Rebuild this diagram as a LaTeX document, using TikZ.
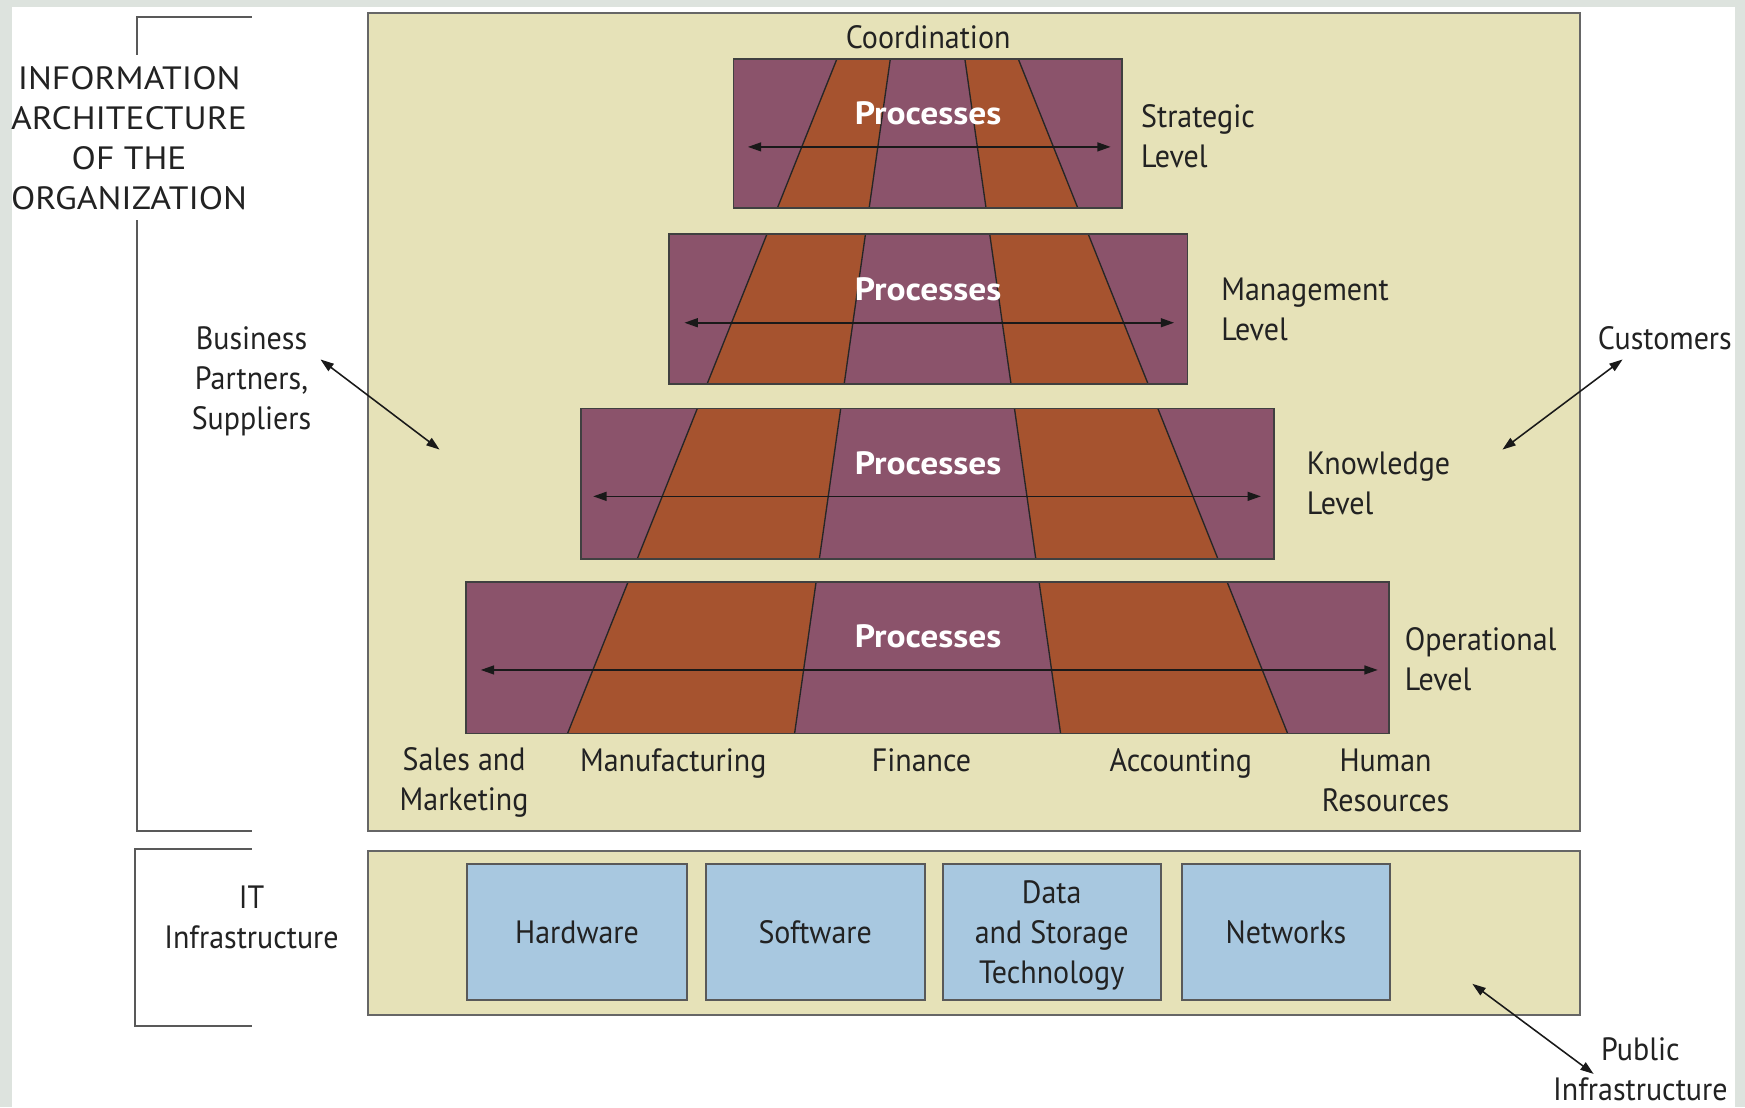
\documentclass[tikz,border=0pt]{standalone}
\usepackage{fontspec}
\setmainfont{PT Sans}[FakeStretch=0.93]
\newfontfamily\procfont{PT Sans}[FakeStretch=1.1]
\usetikzlibrary{arrows.meta,fit}
\definecolor{bgout}{HTML}{DDE3DE}
\definecolor{khaki}{HTML}{E6E2B8}
\definecolor{purp}{HTML}{8B536B}
\definecolor{orng}{HTML}{A6532F}
\definecolor{lblue}{HTML}{A8C8E0}
\definecolor{ink}{HTML}{222222}
\begin{document}
\begin{tikzpicture}[x=0.5pt,y=-0.5pt,
  lbl/.style={font=\fontsize{14.5}{18}\selectfont, align=center, inner sep=0pt, text=ink},
  lvltxt/.style={lbl, align=left, anchor=west},
  proc/.style={font=\procfont\fontsize{14.5}{18}\selectfont\bfseries, text=white, inner sep=0pt},
  container/.style={draw=black!60, line width=1pt, fill=khaki, inner sep=0pt},
  techbox/.style={draw=black!65, line width=0.9pt, fill=lblue, inner sep=0pt, lbl},
  lvlbox/.style={draw=black!75, line width=0.8pt},
  stripe/.style={draw=black!85, line width=0.6pt},
  hflow/.style={draw=black!90, line width=0.75pt, {Triangle[length=6pt,width=4pt]}-{Triangle[length=6pt,width=4pt]}},
  ext/.style={draw=black!90, line width=0.7pt, {Triangle[length=6pt,width=4pt]}-{Triangle[length=6pt,width=4pt]}},
  bracket/.style={draw=black!65, line width=0.9pt}
]
\useasboundingbox (0,0) rectangle (1568,995);
\fill[bgout] (0,0) rectangle (1568,995);
\fill[white] (11,6) rectangle (1559,995);

% containers
\node[container, fit={(331,12) (1420,747)}] (org) {};
\node[container, fit={(331,765) (1420,912)}] (itbox) {};

% brackets
\draw[bracket] (226,15) -- (123,15) -- (123,49);
\draw[bracket] (123,198) -- (123,747) -- (226,747);
\draw[bracket] (226,763) -- (121,763) -- (121,922) -- (226,922);

% stripe guide coordinates
\coordinate (a1) at (752,53);  \coordinate (a2) at (510,659);
\coordinate (b1) at (800,53);  \coordinate (b2) at (714,659);
\coordinate (c1) at (867,53);  \coordinate (c2) at (953,659);
\coordinate (d1) at (915,53);  \coordinate (d2) at (1157,659);

% levels
\foreach \nm/\xl/\xr/\yt/\yb in {strat/659/1008/53/187, mgmt/601/1067/210/345, know/522/1145/367/502, oper/419/1248/523/659}{
  \begin{scope}
    \clip (\xl,\yt) rectangle (\xr,\yb);
    \fill[purp] (\xl,\yt) rectangle (\xr,\yb);
    \fill[orng] (a1) -- (b1) -- (b2) -- (a2) -- cycle;
    \fill[orng] (d1) -- (c1) -- (c2) -- (d2) -- cycle;
    \draw[stripe] (a1) -- (a2);
    \draw[stripe] (b1) -- (b2);
    \draw[stripe] (c1) -- (c2);
    \draw[stripe] (d1) -- (d2);
  \end{scope}
  \node[lvlbox, fit={(\xl,\yt) (\xr,\yb)}, inner sep=0pt] (\nm) {};
}

% process flows
\coordinate (s1) at (672,132); \coordinate (s2) at (998,132);
\coordinate (m1) at (615,290); \coordinate (m2) at (1055,290);
\coordinate (k1) at (533,446); \coordinate (k2) at (1133,446);
\coordinate (o1) at (432,602); \coordinate (o2) at (1238,602);
\draw[hflow] (s1) -- (s2);
\draw[hflow] (m1) -- (m2);
\draw[hflow] (k1) -- (k2);
\draw[hflow] (o1) -- (o2);

\node[proc] (p1) at (834,102) {Processes};
\node[proc] (p2) at (834,260) {Processes};
\node[proc] (p3) at (834,416) {Processes};
\node[proc] (p4) at (834,572) {Processes};

% labels
\node[lbl] (coord) at (834,33) {Coordination};
\node[lvltxt] (lstrat) at (1025,122) {Strategic\\Level};
\node[lvltxt] (lmgmt) at (1097,278) {Management\\Level};
\node[lvltxt] (lknow) at (1174,434) {Knowledge\\Level};
\node[lvltxt] (loper) at (1262,592) {Operational\\Level};

\node[lbl] (sales) at (417,703) {Sales and\\Marketing};
\node[lbl] (manu) at (605,686) {Manufacturing};
\node[lbl] (fin) at (828,683) {Finance};
\node[lbl] (acc) at (1061,686) {Accounting};
\node[lbl] (hr) at (1245,701) {Human\\Resources};

\node[lbl, font=\procfont\fontsize{14.5}{18}\selectfont] (info) at (116,124) {INFORMATION\\ARCHITECTURE\\OF THE\\ORGANIZATION};
\node[lbl] (itinf) at (226,824) {IT\\Infrastructure};

% technology boxes
\node[techbox, fit={(420,776) (617,899)}] (hw) {};
\node[lbl] at (hw.center) {Hardware};
\node[techbox, fit={(634,776) (831,899)}] (sw) {};
\node[lbl] at (sw.center) {Software};
\node[techbox, fit={(847,776) (1043,899)}] (data) {};
\node[lbl] at ([yshift=-1.5pt]data.center) {Data\\and Storage\\Technology};
\node[techbox, fit={(1062,776) (1249,899)}] (net) {};
\node[lbl] at (net.center) {Networks};

% external parties
\node[lbl] (bp) at (226,343) {Business\\Partners,\\Suppliers};
\node[lbl] (cust) at (1496,304) {Customers};
\node[lbl] (pub) at (1474,961) {Public\\Infrastructure};
\coordinate (bpA) at (288,323); \coordinate (bpB) at (395,404);
\coordinate (cuA) at (1458,323); \coordinate (cuB) at (1350,404);
\coordinate (puA) at (1323,884); \coordinate (puB) at (1432,965);
\draw[ext] (bpA) -- (bpB);
\draw[ext] (cuA) -- (cuB);
\draw[ext] (puA) -- (puB);
\end{tikzpicture}
\end{document}
